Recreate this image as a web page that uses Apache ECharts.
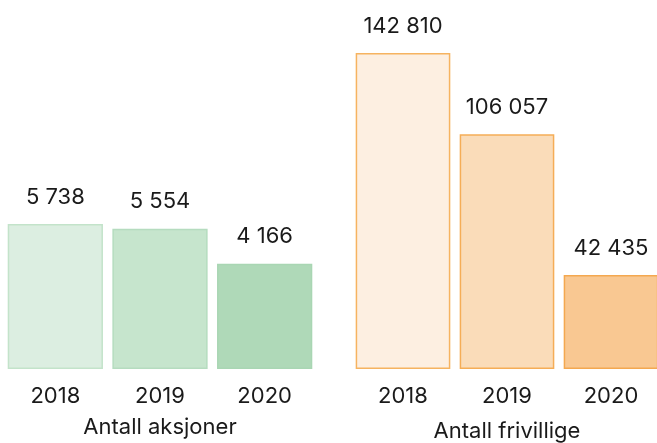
<!DOCTYPE html>
<html>
<head>
<meta charset="utf-8">
<script src="https://cdn.jsdelivr.net/npm/echarts@6/dist/echarts.min.js"></script>
<style>
  html, body { margin: 0; padding: 0; background: #fff; }
  #chart { width: 657px; height: 443px; }
</style>
</head>
<body>
<div id="chart"></div>
<script>
const years = ['2018', '2019', '2020']
const aksjoner = [5738, 5554, 4166]
const frivillige = [142810, 106057, 42435]

const greenFill = ['#dceee1', '#c6e5cd', '#afd9b8']
const greenBorder = ['#c3e3ca', '#b5dcbf', '#a9d6b3']
const orangeFill = ['#fdefe1', '#fadcb9', '#f9c892']
const orangeBorder = ['#f6b360', '#f5ad57', '#f4a850']

const font = 'Inter, "Noto Sans", sans-serif'
const fmt = v => String(v).replace(/\B(?=(\d{3})+(?!\d))/g, ' ')

const chart = echarts.init(document.getElementById('chart'))

const xAxisFor = (grid, name, gap) => ({
    type: 'category',
    gridIndex: grid,
    data: years,
    axisLine: { show: false },
    axisTick: { show: false },
    axisLabel: { color: '#1a1a1a', fontSize: 22, fontFamily: font, margin: 16 },
    name: name,
    nameLocation: 'middle',
    nameGap: gap,
    nameTextStyle: { color: '#1a1a1a', fontSize: 22, fontFamily: font }
})

const yAxisFor = (grid, max) => ({
    type: 'value',
    gridIndex: grid,
    min: 0,
    max: max,
    show: false,
    splitLine: { show: false }
})

const seriesFor = (idx, values, fills, borders) => ({
    type: 'bar',
    xAxisIndex: idx,
    yAxisIndex: idx,
    barCategoryGap: '9%',
    data: values.map((v, i) => ({
        value: v,
        itemStyle: { color: fills[i], borderColor: borders[i], borderWidth: 1.5 }
    })),
    label: {
        show: true,
        position: 'top',
        distance: 16,
        color: '#1a1a1a',
        fontSize: 22,
        fontFamily: font,
        formatter: p => fmt(p.value)
    }
})

chart.setOption({
    animation: false,
    grid: [
        { left: 3, width: 314, top: 0, bottom: 74, outerBoundsMode: 'none' },
        { left: 351, width: 312, top: 0, bottom: 74, outerBoundsMode: 'none' }
    ],
    xAxis: [
        xAxisFor(0, 'Antall aksjoner', 47),
        xAxisFor(1, 'Antall frivillige', 51)
    ],
    yAxis: [
        yAxisFor(0, 14600),
        yAxisFor(1, 166750)
    ],
    series: [
        seriesFor(0, aksjoner, greenFill, greenBorder),
        seriesFor(1, frivillige, orangeFill, orangeBorder)
    ]
})
</script>
</body>
</html>
